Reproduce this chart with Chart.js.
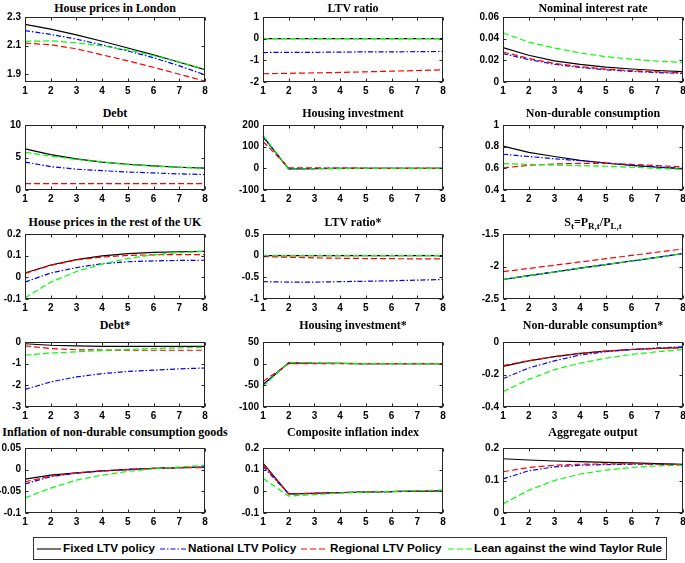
<!DOCTYPE html>
<html>
<head>
<meta charset="utf-8">
<script src="https://cdn.jsdelivr.net/npm/chart.js@4.4.1/dist/chart.umd.min.js"></script>
<style>
  body { margin: 0; background: #fff; width: 685px; height: 563px; position: relative; overflow: hidden; }
  canvas { position: absolute; }
  .ttl { position: absolute; text-align: center; white-space: nowrap; font: bold 12px "Liberation Serif", "Times New Roman", serif; line-height: 14px; height: 14px; color: #000; }
  .ttl sub { font-size: 9px; vertical-align: -3px; line-height: 0; }
  #legend { position: absolute; left: 33px; top: 537px; width: 634px; height: 23px; border: 1px solid #333; box-sizing: border-box; }
  .lg { position: absolute; font: bold 11.7px "Liberation Sans", Arial, sans-serif; color: #000; white-space: nowrap; }
  svg { position: absolute; }
</style>
</head>
<body>
<div id="legend"></div>
<script>
const periods = ['1', '2', '3', '4', '5', '6', '7', '8'];
const seriesNames = ['Fixed LTV policy', 'National LTV Policy', 'Regional LTV Policy', 'Lean against the wind Taylor Rule'];

// every panel: [fixed LTV, national LTV, regional LTV, lean against the wind]
const housePricesLondon = [
  [2.248, 2.215, 2.175, 2.13, 2.083, 2.035, 1.983, 1.932],
  [2.205, 2.178, 2.145, 2.105, 2.062, 2.015, 1.958, 1.895],
  [2.117, 2.106, 2.077, 2.035, 1.993, 1.948, 1.899, 1.851],
  [2.13, 2.133, 2.12, 2.097, 2.07, 2.03, 1.985, 1.934]
];
const ltvRatio = [
  [0, 0, 0, 0, 0, 0, 0, 0],
  [-0.64, -0.63, -0.63, -0.62, -0.61, -0.61, -0.6, -0.59],
  [-1.62, -1.6, -1.58, -1.56, -1.53, -1.5, -1.47, -1.44],
  [0, 0, 0, 0, 0, 0, 0, 0]
];
const interestRate = [
  [0.0317, 0.0247, 0.0195, 0.0163, 0.0138, 0.012, 0.0106, 0.0096],
  [0.0262, 0.0207, 0.0164, 0.0134, 0.0113, 0.0098, 0.0087, 0.0079],
  [0.0277, 0.0217, 0.0172, 0.0142, 0.0119, 0.0104, 0.0094, 0.0085],
  [0.0452, 0.0368, 0.0314, 0.0268, 0.0234, 0.0211, 0.0193, 0.018]
];
const debt = [
  [6.34, 5.45, 4.8, 4.3, 3.96, 3.7, 3.5, 3.37],
  [4.3, 3.6, 3.2, 2.97, 2.77, 2.62, 2.48, 2.38],
  [0.98, 0.98, 0.98, 0.98, 0.98, 0.98, 0.98, 0.98],
  [5.8, 5.2, 4.7, 4.3, 3.92, 3.66, 3.5, 3.32]
];
const housingInv = [
  [147, -3, -1, -0.5, 0, 0, 0, 0],
  [145, -3, -1, 0, 0, 0, 0, 0],
  [124, 3, 2, 1, 0.5, 0, 0, 0],
  [152, -4, -2, -1, 0, 0, 0, 0]
];
const consumption = [
  [0.805, 0.748, 0.709, 0.673, 0.649, 0.628, 0.61, 0.595],
  [0.73, 0.709, 0.688, 0.67, 0.649, 0.628, 0.613, 0.6],
  [0.604, 0.628, 0.64, 0.646, 0.646, 0.637, 0.625, 0.613],
  [0.643, 0.637, 0.631, 0.625, 0.619, 0.61, 0.6, 0.592]
];
const housePricesRest = [
  [0.02, 0.057, 0.082, 0.099, 0.109, 0.115, 0.118, 0.12],
  [-0.022, 0.02, 0.045, 0.063, 0.072, 0.076, 0.078, 0.079],
  [0.018, 0.055, 0.08, 0.094, 0.101, 0.104, 0.105, 0.105],
  [-0.095, -0.022, 0.027, 0.061, 0.087, 0.104, 0.114, 0.12]
];
const ltvRatioStar = [
  [0, 0, 0, 0, 0, 0, 0, 0],
  [-0.6, -0.61, -0.61, -0.6, -0.59, -0.58, -0.565, -0.55],
  [-0.02, -0.037, -0.05, -0.06, -0.066, -0.07, -0.073, -0.075],
  [0, 0, 0, 0, 0, 0, 0, 0]
];
const termsOfTrade = [
  [-2.2, -2.14, -2.085, -2.025, -1.97, -1.915, -1.86, -1.8],
  [-2.2, -2.14, -2.085, -2.025, -1.97, -1.915, -1.86, -1.8],
  [-2.08, -2.03, -1.98, -1.93, -1.88, -1.83, -1.78, -1.73],
  [-2.2, -2.14, -2.085, -2.025, -1.97, -1.915, -1.86, -1.8]
];
const debtStar = [
  [-0.08, -0.15, -0.18, -0.2, -0.2, -0.2, -0.2, -0.2],
  [-2.19, -1.84, -1.61, -1.46, -1.36, -1.3, -1.24, -1.2],
  [-0.18, -0.3, -0.36, -0.37, -0.38, -0.38, -0.38, -0.38],
  [-0.6, -0.51, -0.45, -0.4, -0.34, -0.3, -0.27, -0.24]
];
const housingInvStar = [
  [-48, 2, 1, 0.5, 0, 0, 0, 0],
  [-50, 2, 1, 0.5, 0, 0, 0, 0],
  [-41, 0, 0, 0, 0, 0, 0, 0],
  [-52, 3, 1.5, 0.5, 0, 0, 0, 0]
];
const consumptionStar = [
  [-0.15, -0.116, -0.09, -0.07, -0.056, -0.046, -0.04, -0.034],
  [-0.226, -0.16, -0.116, -0.08, -0.06, -0.046, -0.036, -0.03],
  [-0.145, -0.115, -0.09, -0.07, -0.056, -0.046, -0.04, -0.036],
  [-0.306, -0.23, -0.17, -0.13, -0.1, -0.076, -0.06, -0.046]
];
const ndInflation = [
  [-0.022, -0.0127, -0.0075, -0.003, 0, 0.003, 0.0045, 0.006],
  [-0.033, -0.016, -0.008, -0.003, 0.001, 0.003, 0.0045, 0.006],
  [-0.028, -0.015, -0.0075, -0.003, 0, 0.003, 0.0045, 0.005],
  [-0.065, -0.0425, -0.024, -0.0127, -0.004, 0.002, 0.006, 0.01]
];
const compositeInflation = [
  [0.13, -0.012, -0.009, -0.006, -0.003, -0.001, 0.001, 0.002],
  [0.115, -0.012, -0.009, -0.006, -0.003, -0.001, 0.001, 0.002],
  [0.124, -0.012, -0.009, -0.006, -0.003, -0.001, 0.001, 0.002],
  [0.06, -0.022, -0.015, -0.008, -0.004, 0, 0.003, 0.006]
];
const output = [
  [0.167, 0.163, 0.16, 0.158, 0.156, 0.154, 0.152, 0.15],
  [0.105, 0.13, 0.142, 0.147, 0.149, 0.15, 0.15, 0.149],
  [0.127, 0.14, 0.147, 0.15, 0.151, 0.151, 0.15, 0.149],
  [0.028, 0.07, 0.1, 0.12, 0.132, 0.14, 0.145, 0.147]
];

const styles = [
  { color: '#000000', dash: [] },
  { color: '#0000ff', dash: [5, 2, 1.5, 2] },
  { color: '#ff0000', dash: [6, 3] },
  { color: '#00ff00', dash: [6, 3] }
];

const panels = [
  { title: 'House prices in London', data: housePricesLondon, ticks: [1.9, 2.1, 2.3], min: 1.845, max: 2.3 },
  { title: 'LTV ratio', data: ltvRatio, ticks: [-2, -1, 0, 1], min: -2, max: 1 },
  { title: 'Nominal interest rate', data: interestRate, ticks: [0, 0.02, 0.04, 0.06], min: 0, max: 0.06 },
  { title: 'Debt', data: debt, ticks: [0, 5, 10], min: 0, max: 10 },
  { title: 'Housing investment', data: housingInv, ticks: [-100, 0, 100, 200], min: -100, max: 200 },
  { title: 'Non-durable consumption', data: consumption, ticks: [0.4, 0.6, 0.8, 1], min: 0.4, max: 1 },
  { title: 'House prices in the rest of the UK', data: housePricesRest, ticks: [-0.1, 0, 0.1, 0.2], min: -0.1, max: 0.2 },
  { title: 'LTV ratio*', data: ltvRatioStar, ticks: [-1, -0.5, 0, 0.5], min: -1, max: 0.5 },
  { title: 'S<sub>t</sub>=P<sub>R,t</sub>/P<sub>L,t</sub>', data: termsOfTrade, ticks: [-2.5, -2, -1.5], min: -2.5, max: -1.5 },
  { title: 'Debt*', data: debtStar, ticks: [-3, -2, -1, 0], min: -3, max: 0 },
  { title: 'Housing investment*', data: housingInvStar, ticks: [-100, -50, 0, 50], min: -100, max: 50 },
  { title: 'Non-durable consumption*', data: consumptionStar, ticks: [-0.4, -0.2, 0], min: -0.4, max: 0 },
  { title: 'Inflation of non-durable consumption goods', data: ndInflation, ticks: [-0.1, -0.05, 0, 0.05], min: -0.1, max: 0.05 },
  { title: 'Composite inflation index', data: compositeInflation, ticks: [-0.1, 0, 0.1, 0.2], min: -0.1, max: 0.2 },
  { title: 'Aggregate output', data: output, ticks: [0, 0.1, 0.2], min: 0, max: 0.2 }
];

// plot-area placement
const cols = [25, 263, 503];
const rows = [15, 123, 232, 340, 446];
const titleMid = [8, 113, 222, 325, 432];
const PW = 180, PH = 67;
const YW = 34, PT = 8, PR = 8, XH = 17;

const tickFont = { family: '"Liberation Sans", Arial, sans-serif', size: 10, weight: 'bold' };

// matlab-like box with inward ticks
const boxPlugin = {
  id: 'box',
  afterDraw(chart) {
    const { ctx, chartArea: a, scales: { x, y } } = chart;
    const l = Math.round(a.left) + 0.5, r = Math.round(a.right) - 0.5;
    const t = Math.round(a.top) + 0.5, b = Math.round(a.bottom) - 0.5;
    ctx.save();
    ctx.strokeStyle = '#262626';
    ctx.lineWidth = 1;
    ctx.setLineDash([]);
    ctx.strokeRect(l, t, r - l, b - t);
    ctx.beginPath();
    x.ticks.forEach((tk, i) => {
      const px = Math.round(x.getPixelForTick(i)) + 0.5;
      ctx.moveTo(px, b); ctx.lineTo(px, b - 3);
      ctx.moveTo(px, t); ctx.lineTo(px, t + 3);
    });
    y.ticks.forEach(tk => {
      const py = Math.round(y.getPixelForValue(tk.value)) + 0.5;
      ctx.moveTo(l, py); ctx.lineTo(l + 3, py);
      ctx.moveTo(r, py); ctx.lineTo(r - 3, py);
    });
    ctx.stroke();
    ctx.restore();
  }
};

panels.forEach((p, i) => {
  const row = Math.floor(i / 3);
  const L = cols[i % 3], T = rows[row];

  const ttl = document.createElement('div');
  ttl.className = 'ttl';
  ttl.style.left = (L - 60) + 'px';
  ttl.style.width = (PW + 120) + 'px';
  ttl.style.top = (titleMid[row] - 7) + 'px';
  ttl.innerHTML = p.title;
  document.body.appendChild(ttl);

  const cv = document.createElement('canvas');
  const w = YW + PW + PR, h = PT + PH + XH;
  cv.width = w; cv.height = h;
  cv.style.left = (L - YW) + 'px';
  cv.style.top = (T - PT) + 'px';
  cv.style.width = w + 'px';
  cv.style.height = h + 'px';
  document.body.appendChild(cv);

  new Chart(cv, {
    type: 'line',
    data: {
      labels: periods,
      datasets: p.data.map((vals, k) => ({
        label: seriesNames[k],
        data: vals,
        borderColor: styles[k].color,
        borderDash: styles[k].dash,
        borderWidth: 1.2,
        pointRadius: 0,
        tension: 0,
        fill: false,
        order: 4 - k
      }))
    },
    options: {
      responsive: false,
      animation: false,
      devicePixelRatio: 1,
      layout: { padding: { top: PT, right: PR, left: 0, bottom: 0 } },
      plugins: { legend: { display: false }, tooltip: { enabled: false } },
      scales: {
        x: {
          type: 'category',
          offset: false,
          grid: { display: false, drawTicks: false },
          border: { display: false },
          ticks: { font: tickFont, color: '#000', padding: 3, maxRotation: 0, autoSkip: false },
          afterFit: s => { s.height = XH; }
        },
        y: {
          min: p.min,
          max: p.max,
          grid: { display: false, drawTicks: false },
          border: { display: false },
          ticks: { font: tickFont, color: '#000', padding: 4, callback: v => String(v) },
          afterBuildTicks: s => { s.ticks = p.ticks.map(v => ({ value: v })); },
          afterFit: s => { s.width = YW; }
        }
      }
    },
    plugins: [boxPlugin]
  });
});

// legend
const legendPos = [[37, 63], [160, 188], [301, 330], [448, 474]];
const legend = document.getElementById('legend');
seriesNames.forEach((name, k) => {
  const [lx, tx] = legendPos[k];
  const svg = document.createElementNS('http://www.w3.org/2000/svg', 'svg');
  svg.setAttribute('width', 28); svg.setAttribute('height', 4);
  svg.style.left = (lx - 34) + 'px';
  svg.style.top = '8.5px';
  const ln = document.createElementNS('http://www.w3.org/2000/svg', 'line');
  ln.setAttribute('x1', 0); ln.setAttribute('x2', tx - lx - 2);
  ln.setAttribute('y1', 2); ln.setAttribute('y2', 2);
  ln.setAttribute('stroke', styles[k].color);
  ln.setAttribute('stroke-width', 1.1);
  if (styles[k].dash.length) ln.setAttribute('stroke-dasharray', styles[k].dash.join(' '));
  svg.appendChild(ln);
  legend.appendChild(svg);
  const txt = document.createElement('div');
  txt.className = 'lg';
  txt.style.left = (tx - 34) + 'px';
  txt.style.top = '3px';
  txt.textContent = name;
  legend.appendChild(txt);
});
</script>
</body>
</html>
